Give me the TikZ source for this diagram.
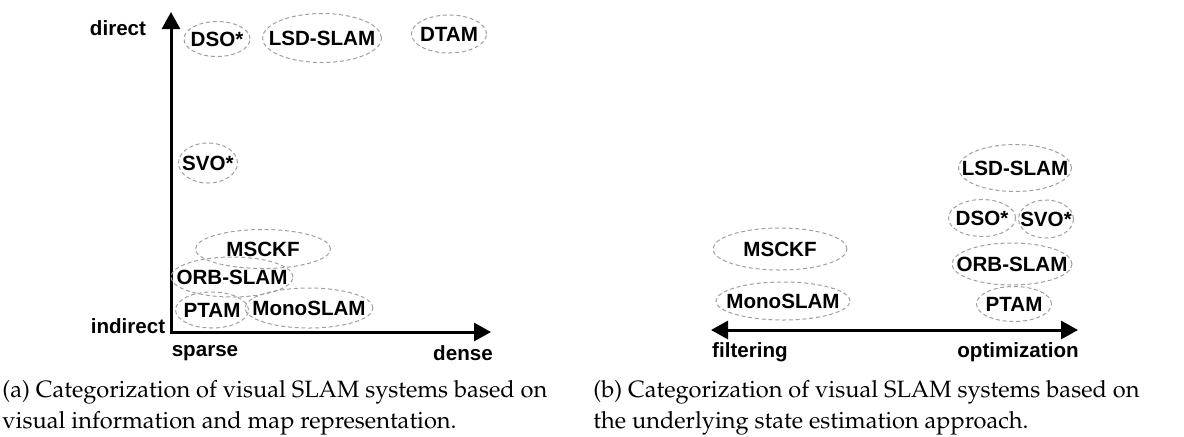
\documentclass[tikz,border=0pt]{standalone}
\usepackage[T1]{fontenc}
\usepackage{fontspec}
\setmainfont{Liberation Sans}
\usepackage{tikz}
\usetikzlibrary{shapes.geometric,arrows.meta}

\newcommand{\capfont}{\fontencoding{T1}\fontfamily{ppl}\fontseries{m}\fontshape{n}\fontsize{11.8}{12.5}\selectfont}

\begin{document}
\begin{tikzpicture}[x=0.5pt, y=-0.5pt, >={Triangle[length=8.5pt,width=9pt]},
		sys/.style={ellipse, draw=gray!75, dashed, dash pattern=on 2pt off 1.4pt, line width=0.5pt,
			inner sep=0pt, font=\fontsize{10.3}{12}\bfseries,
			execute at begin node={\hbox to 0pt\bgroup\hss},
			execute at end node={\hss\egroup}},
		sz/.style 2 args={minimum width=#1*0.5pt, minimum height=#2*0.5pt},
		ax/.style={line width=1.5pt},
		lbl/.style={font=\fontsize{10.3}{12}\bfseries},
		subcap/.style={anchor=north west, align=left, inner sep=0pt, font=\capfont}]
			\useasboundingbox (0,0) rectangle (1184,436);

			% (a) visual information vs. map representation
			\coordinate (o) at (171,332);
			\coordinate (ytip) at (171,12);
			\coordinate (xtip) at (491,332);
			\draw[ax,<->] (ytip) -- (o) -- (xtip);

			\node[lbl] (direct) at (118,28) {direct};
			\node[lbl] (indirect) at (128,326) {indirect};
			\node[lbl] (sparse) at (205,353) {sparse};
			\node[lbl] (dense) at (463,353) {dense};

			\node[sys,sz={66}{35}] (dsoA) at (217,39) {DSO*};
			\node[sys,sz={119}{49}] (lsdA) at (322,38) {LSD-SLAM};
			\node[sys,sz={75}{38}] (dtamA) at (449,34) {DTAM};
			\node[sys,sz={59}{40}] (svoA) at (208,163) {SVO*};
			\node[sys,sz={135}{39}] (msckfA) at (263,249) {MSCKF};
			\node[sys,sz={122}{40}] (orbA) at (232,277) {ORB-SLAM};
			\node[sys,sz={73}{36}] (ptamA) at (212,310) {PTAM};
			\node[sys,sz={128}{40}] (monoA) at (309,308) {MonoSLAM};

			% (b) state estimation approach
			\coordinate (fl) at (711,330);
			\coordinate (op) at (1078,330);
			\draw[ax,<->] (fl) -- (op);

			\node[lbl] (filtering) at (750,352) {filtering};
			\node[lbl] (optim) at (1018,352) {optimization};

			\node[sys,sz={113}{47}] (lsdB) at (1015,168) {LSD-SLAM};
			\node[sys,sz={67}{37}] (dsoB) at (982,218) {DSO*};
			\node[sys,sz={55}{38}] (svoB) at (1046,219) {SVO*};
			\node[sys,sz={120}{42}] (orbB) at (1012,264) {ORB-SLAM};
			\node[sys,sz={75}{35}] (ptamB) at (1014,304) {PTAM};
			\node[sys,sz={134}{42}] (msckfB) at (780,249) {MSCKF};
			\node[sys,sz={134}{38}] (monoB) at (783,301) {MonoSLAM};

			% captions
			\node[subcap] (capA) at (2,380) {(a) Categorization of visual SLAM systems based on\\[3pt]visual information and map representation.};
			\node[subcap] (capB) at (593,380) {(b) Categorization of visual SLAM systems based on\\[3pt]the underlying state estimation approach.};
		\end{tikzpicture}
\end{document}
